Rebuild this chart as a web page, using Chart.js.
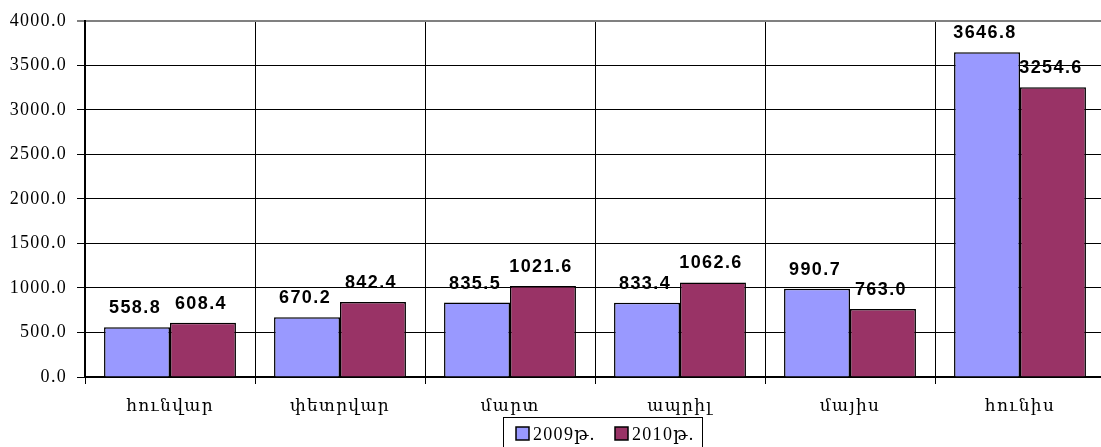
<!DOCTYPE html>
<html><head><meta charset="utf-8">
<script src="https://cdn.jsdelivr.net/npm/chart.js@4"></script>
<style>html,body{margin:0;padding:0;overflow:hidden;background:#fff;width:1101px;height:447px}
canvas{display:block}</style></head>
<body><canvas id="c" width="1106" height="447"></canvas>
<script>
const categories = ['հունվար', 'փետրվար', 'մարտ', 'ապրիլ', 'մայիս', 'հունիս'];
const series2009 = [558.8, 670.2, 835.5, 833.4, 990.7, 3646.8];
const series2010 = [608.4, 842.4, 1021.6, 1062.6, 763.0, 3254.6];
const seriesNames = ['2009թ.', '2010թ.'];
const seriesColors = ['#9999FF', '#993366'];
const yMin = 0, yMax = 4000, yStep = 500;

const SERIF = '"Liberation Serif","DejaVu Serif","Times New Roman",serif';
Chart.defaults.font.family = SERIF;
Chart.defaults.color = '#000';

const spacingPlugin = {
  id: 'spacing',
  beforeDraw(chart) { chart.ctx.letterSpacing = '1.3px'; }
};

const labelPlugin = {
  id: 'valueLabels',
  afterDatasetsDraw(chart) {
    const ctx = chart.ctx;
    ctx.save();
    ctx.letterSpacing = '1.4px';
    ctx.font = 'bold 18px "Liberation Sans","DejaVu Sans",sans-serif';
    ctx.fillStyle = '#000';
    ctx.textAlign = 'center';
    ctx.textBaseline = 'alphabetic';
    chart.data.datasets.forEach((ds, di) => {
      const meta = chart.getDatasetMeta(di);
      meta.data.forEach((el, i) => {
        ctx.fillText(ds.data[i].toFixed(1), el.x - 2, el.y - 14);
      });
    });
    ctx.restore();
  }
};

const legendPlugin = {
  id: 'boxLegend',
  afterDraw(chart) {
    const ctx = chart.ctx;
    ctx.save();
    ctx.letterSpacing = '1.3px';
    ctx.font = '18px ' + SERIF;
    ctx.strokeStyle = '#000';
    ctx.lineWidth = 1;
    ctx.strokeRect(503.5, 417.5, 199, 40);
    const items = [[516, 533], [615, 632]];
    chart.data.datasets.forEach((ds, i) => {
      const [bx, tx] = items[i];
      ctx.fillStyle = ds.backgroundColor;
      ctx.fillRect(bx, 427, 13, 13);
      ctx.lineWidth = 1.5;
      ctx.strokeRect(bx, 427, 13, 13);
      ctx.fillStyle = '#000';
      ctx.textAlign = 'left';
      ctx.textBaseline = 'middle';
      ctx.fillText(ds.label, tx, 435);
    });
    ctx.restore();
  }
};

new Chart(document.getElementById('c'), {
  type: 'bar',
  data: {
    labels: categories,
    datasets: [
      { label: seriesNames[0], data: series2009, backgroundColor: seriesColors[0], borderColor: '#000', borderWidth: 1.5 },
      { label: seriesNames[1], data: series2010, backgroundColor: seriesColors[1], borderColor: '#000', borderWidth: 1.5 }
    ]
  },
  options: {
    responsive: false,
    animation: false,
    layout: { padding: { top: 20, left: 0, right: 1, bottom: 0 } },
    datasets: { bar: { categoryPercentage: 0.776, barPercentage: 1.0 } },
    plugins: { legend: { display: false }, tooltip: { enabled: false } },
    scales: {
      x: {
        grid: { offset: true, color: '#000', lineWidth: 1, tickLength: 7, drawTicks: true },
        border: { display: true, color: '#000', width: 2 },
        ticks: { font: { size: 17 }, color: '#000', padding: 12 },
        afterFit(s) { s.height = 70; }
      },
      y: {
        min: yMin, max: yMax,
        ticks: { stepSize: yStep, font: { size: 18 }, color: '#000', padding: 10,
          callback: v => Number(v).toFixed(1) },
        grid: {
          color: c => c.tick && c.tick.value === yMax ? '#808080' : '#000',
          lineWidth: c => c.tick && c.tick.value === yMax ? 2 : 1,
          tickLength: 8
        },
        border: { display: true, color: '#000', width: 2 },
        afterFit(s) { s.width = 85; }
      }
    }
  },
  plugins: [spacingPlugin, labelPlugin, legendPlugin]
});
</script>
</body></html>
